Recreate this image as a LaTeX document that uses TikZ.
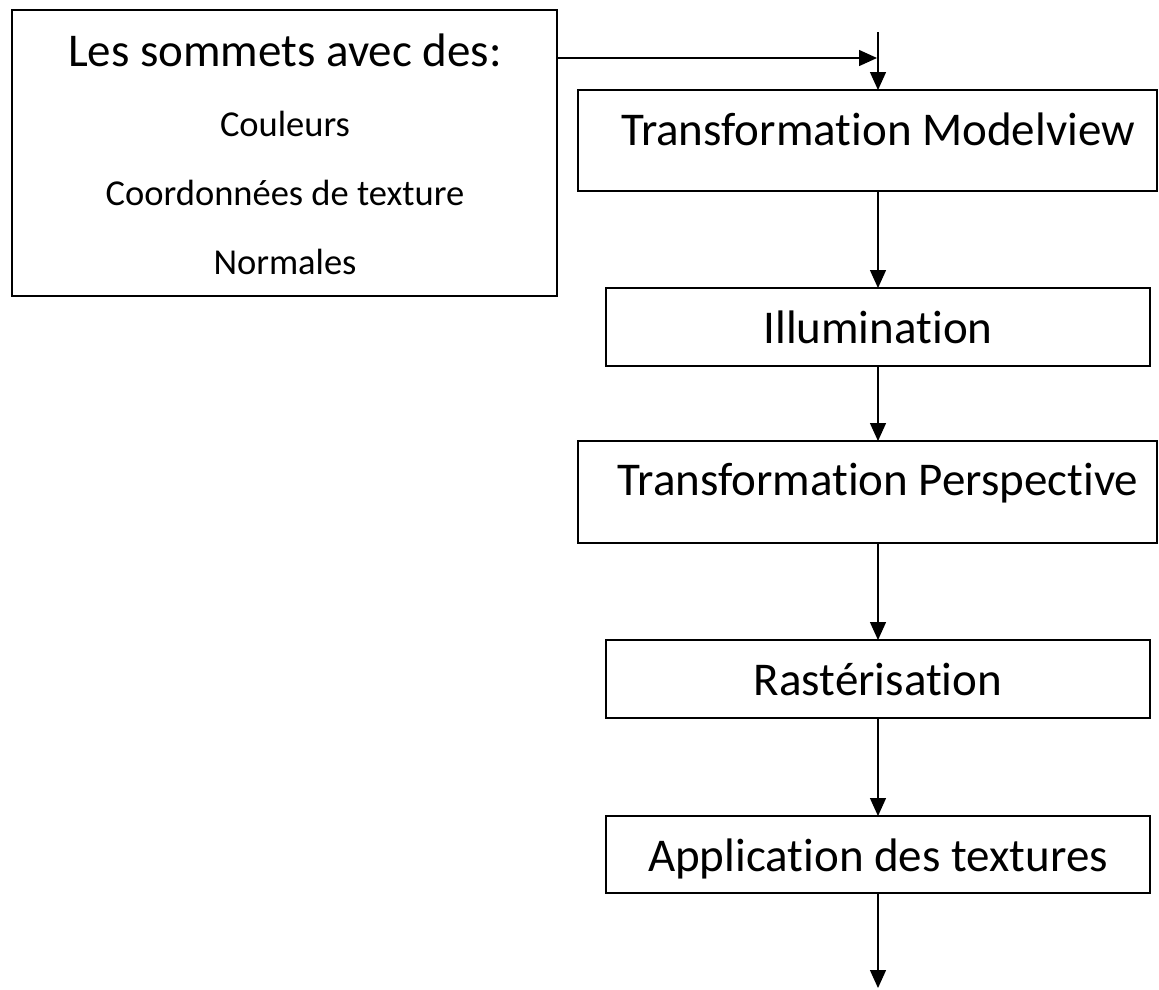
\documentclass[tikz,border=0pt]{standalone}
\usepackage{fontspec}
\setmainfont{Carlito}[Ligatures={NoCommon,NoContextual,NoRare,NoRequired}]
\usetikzlibrary{arrows.meta}
\begin{document}
\begin{tikzpicture}[x=1pt,y=-1pt,
  box/.style={draw=black,line width=1.7pt,inner sep=0pt,outer sep=0pt},
  bigtxt/.style={anchor=base,inner sep=0pt,font=\fontsize{47}{56}\selectfont},
  smalltxt/.style={anchor=base,inner sep=0pt,font=\fontsize{36.5}{44}\selectfont},
  flow/.style={line width=1.4pt,-{Triangle[width=16pt,length=18pt]}}]
\useasboundingbox (0,0) rectangle (1159,989);
\fill[white] (0,0) rectangle (1159,989);

% boxes, given by centre and size
\node[box,minimum width=545pt,minimum height=286pt] (src) at (284.5,153) {};
\node[box,minimum width=579pt,minimum height=101pt] (mv) at (867.5,140.5) {};
\node[box,minimum width=544pt,minimum height=78pt] (ill) at (878,327) {};
\node[box,minimum width=579pt,minimum height=102pt] (persp) at (867.5,492) {};
\node[box,minimum width=544pt,minimum height=78pt] (rast) at (878,679) {};
\node[box,minimum width=544pt,minimum height=77pt] (tex) at (878,854.5) {};

% texts
\node[bigtxt] (t0) at (285,66) {Les sommets avec des:};
\node[smalltxt] (t1) at (285,136) {Couleurs};
\node[smalltxt] (t2) at (285,205) {Coordonnées de texture};
\node[smalltxt] (t3) at (285,274) {Normales};
\node[bigtxt] (tmv) at (878,145) {Transformat\kern0pt ion Modelview};
\node[bigtxt] (till) at (878,343) {Illuminat\kern0pt ion};
\node[bigtxt] (tpersp) at (878,495) {Transformat\kern0pt ion Perspect\kern0pt ive};
\node[bigtxt] (trast) at (878,695) {Rastérisat\kern0pt ion};
\node[bigtxt] (ttex) at (878,871) {Applicat\kern0pt ion des textures};

% the vertical spine of the pipeline
\coordinate (spine) at (878,0);
\coordinate (in) at (878,32);
\coordinate (join) at (877,58);
\coordinate (out) at (878,988);

% connectors
\draw[flow] (src.east |- join) -- (join);
\draw[flow] (in) -- (mv.north -| spine);
\draw[flow] (mv.south -| spine) -- (ill.north -| spine);
\draw[flow] (ill.south -| spine) -- (persp.north -| spine);
\draw[flow] (persp.south -| spine) -- (rast.north -| spine);
\draw[flow] (rast.south -| spine) -- (tex.north -| spine);
\draw[flow] (tex.south -| spine) -- (out);
\end{tikzpicture}
\end{document}
